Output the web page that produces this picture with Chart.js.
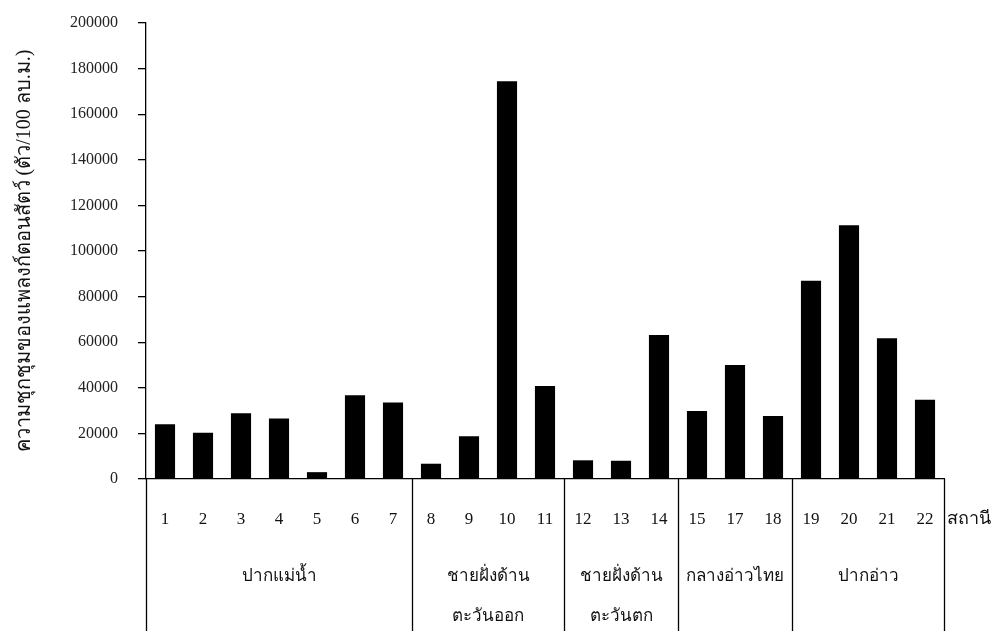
<!DOCTYPE html>
<html>
<head>
<meta charset="utf-8">
<script src="https://cdn.jsdelivr.net/npm/chart.js@4"></script>
<style>
  html, body { margin: 0; padding: 0; background: #fff; }
  #wrap { width: 993px; height: 631px; }
</style>
</head>
<body>
<div id="wrap"><canvas id="c" width="993" height="631"></canvas></div>
<script>
// ---- data ----
const stations = ['1','2','3','4','5','6','7','8','9','10','11','12','13','14','15','17','18','19','20','21','22'];
const density = [24000, 20300, 28800, 26500, 3000, 36700, 33600, 6700, 18700, 174500, 40800, 8200, 8000, 63200, 29800, 50000, 27600, 87000, 111300, 61700, 34800];
const groupNames = [['ปากแม่น้ำ'], ['ชายฝั่งด้าน', 'ตะวันออก'], ['ชายฝั่งด้าน', 'ตะวันตก'], ['กลางอ่าวไทย'], ['ปากอ่าว']];
const groupSizes = [7, 4, 3, 3, 4];
const yTickValues = [0, 20000, 40000, 60000, 80000, 100000, 120000, 140000, 160000, 180000, 200000];
const yTitle = 'ความชุกชุมของแพลงก์ตอนสัตว์ (ตัว/100 ลบ.ม.)';
const xUnit = 'สถานี';

const serif = "'Liberation Serif', 'Times New Roman', serif";

const groupPlugin = {
  id: 'groups',
  afterDraw(chart) {
    const ctx = chart.ctx;
    const x = chart.scales.x;
    const area = chart.chartArea;
    const H = chart.height;
    const step = x.getPixelForValue(1) - x.getPixelForValue(0);
    ctx.save();
    ctx.strokeStyle = '#000';
    ctx.lineWidth = 1.3;
    let start = 0;
    const edges = [x.getPixelForValue(0) - step / 2];
    groupSizes.forEach(n => { start += n; edges.push(x.getPixelForValue(start - 1) + step / 2); });
    edges.forEach(px => {
      ctx.beginPath();
      ctx.moveTo(Math.round(px) + 0.5, area.bottom);
      ctx.lineTo(Math.round(px) + 0.5, H);
      ctx.stroke();
    });
    ctx.fillStyle = '#111';
    ctx.font = "17px " + serif;
    ctx.textAlign = 'center';
    ctx.textBaseline = 'middle';
    groupNames.forEach((lines, i) => {
      const cx = (edges[i] + edges[i + 1]) / 2;
      lines.forEach((t, j) => ctx.fillText(t, cx, area.bottom + 98 + j * 40));
    });
    ctx.font = "18px " + serif;
    ctx.textAlign = 'left';
    ctx.fillText(xUnit, edges[edges.length - 1] + 3, area.bottom + 40);
    ctx.restore();
  }
};

new Chart(document.getElementById('c'), {
  type: 'bar',
  data: {
    labels: stations,
    datasets: [{
      data: density,
      backgroundColor: '#000',
      borderWidth: 0,
      barPercentage: 0.53,
      categoryPercentage: 1.0
    }]
  },
  options: {
    responsive: false,
    animation: false,
    devicePixelRatio: 1,
    layout: { padding: { top: 23, right: 49, bottom: 0, left: 0 } },
    plugins: { legend: { display: false }, tooltip: { enabled: false } },
    scales: {
      x: {
        grid: { display: false, drawTicks: false },
        border: { display: true, color: '#000', width: 1.3 },
        ticks: { color: '#111', font: { family: serif, size: 17 }, padding: 30, maxRotation: 0, autoSkip: false },
        afterFit(s) { s.height = 152; s.paddingLeft = 0; s.paddingRight = 0; }
      },
      y: {
        min: 0, max: 200000,
        afterBuildTicks(s) { s.ticks = yTickValues.map(v => ({ value: v })); },
        grid: { drawOnChartArea: false, drawTicks: true, tickLength: 8, color: '#000', lineWidth: 1.3 },
        border: { display: true, color: '#000', width: 1.3 },
        ticks: { color: '#222', font: { family: serif, size: 16 }, padding: 20, callback: v => String(v) },
        title: { display: true, text: yTitle, color: '#111', font: { family: serif, size: 20, weight: 'normal' }, padding: { top: 13, bottom: 0 } },
        afterFit(s) { s.width = 146; s.paddingTop = 0; s.paddingBottom = 0; }
      }
    }
  },
  plugins: [groupPlugin]
});
</script>
</body>
</html>
